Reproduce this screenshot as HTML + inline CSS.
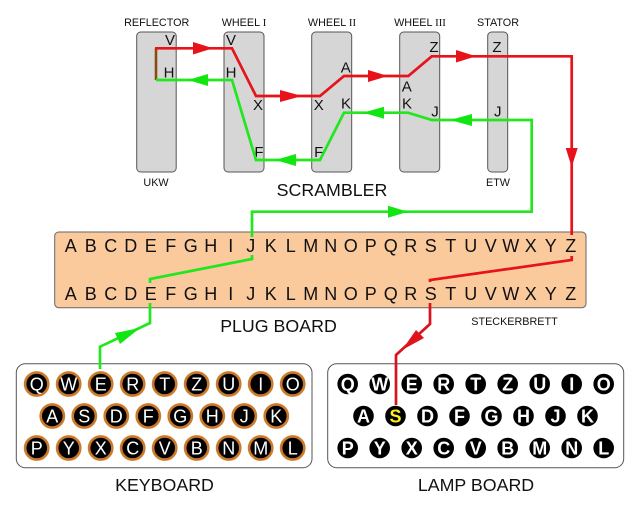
<!DOCTYPE html>
<html>
<head>
<meta charset="utf-8">
<style>
html,body{margin:0;padding:0;background:#fff;}
svg{display:block;filter:blur(0.35px);}
text{font-family:"Liberation Sans",sans-serif;fill:#111;}
.t{font-size:10.8px;text-anchor:middle;}
.b{font-size:17.8px;text-anchor:middle;}
.w{font-size:15px;text-anchor:middle;}
.p{font-size:18px;text-anchor:middle;}
.k text{fill:#fff;font-size:18px;text-anchor:middle;}
.k circle{fill:#000;stroke:#cc7a2a;stroke-width:2.6;}
.l text{fill:#fff;font-size:18px;font-weight:bold;text-anchor:middle;}
.l circle{fill:#000;}
.r{fill:#d6d6d6;stroke:#555;stroke-width:1;}
.red{fill:none;stroke:#e8121a;stroke-width:2.7;stroke-linejoin:miter;}
.grn{fill:none;stroke:#22e61e;stroke-width:2.7;stroke-linejoin:miter;}
</style>
</head>
<body>
<svg width="640" height="512" viewBox="0 0 640 512" xmlns="http://www.w3.org/2000/svg">
<rect width="640" height="512" fill="#fff"/>
<!-- Scrambler drums -->
<rect class="r" x="136.7" y="32" width="39.5" height="140" rx="4"/>
<rect class="r" x="224" y="32" width="40" height="140" rx="4"/>
<rect class="r" x="311.7" y="32" width="40" height="140" rx="4"/>
<rect class="r" x="399.7" y="32" width="40" height="140" rx="4"/>
<rect class="r" x="487.7" y="32" width="20" height="140" rx="4"/>
<!-- Top labels -->
<text class="t" x="156.7" y="26">REFLECTOR</text>
<text class="t" x="244" y="26">WHEEL <tspan font-family="Liberation Serif">I</tspan></text>
<text class="t" x="332" y="26">WHEEL <tspan font-family="Liberation Serif">II</tspan></text>
<text class="t" x="420" y="26">WHEEL <tspan font-family="Liberation Serif">III</tspan></text>
<text class="t" x="498" y="26">STATOR</text>
<text class="t" x="156" y="186">UKW</text>
<text class="t" x="498" y="186">ETW</text>
<text class="b" x="332" y="196">SCRAMBLER</text>
<!-- Drum letters -->
<g>
<text class="w" x="170" y="45">V</text><text class="w" x="169" y="77.5">H</text>
<text class="w" x="231" y="45">V</text><text class="w" x="231" y="77.5">H</text>
<text class="w" x="258" y="110">X</text><text class="w" x="259" y="157">F</text>
<text class="w" x="318.7" y="110">X</text><text class="w" x="318.7" y="157">F</text>
<text class="w" x="345.7" y="72.5">A</text><text class="w" x="346" y="108.5">K</text>
<text class="w" x="406.7" y="91.5">A</text><text class="w" x="407" y="108.5">K</text>
<text class="w" x="434" y="52">Z</text><text class="w" x="435" y="116.5">J</text>
<text class="w" x="497" y="52">Z</text><text class="w" x="497.7" y="116.5">J</text>
</g>
<!-- Plug board -->
<rect x="54.7" y="232" width="531.3" height="75.7" rx="4" fill="#fbca9c" stroke="#666" stroke-width="1"/>
<g>
<text class="p" x="70.7" y="252">A</text><text class="p" x="90.7" y="252">B</text><text class="p" x="110.7" y="252">C</text><text class="p" x="130.7" y="252">D</text><text class="p" x="150.7" y="252">E</text><text class="p" x="170.7" y="252">F</text><text class="p" x="190.7" y="252">G</text><text class="p" x="210.7" y="252">H</text><text class="p" x="230.7" y="252">I</text><text class="p" x="250.7" y="252">J</text><text class="p" x="270.7" y="252">K</text><text class="p" x="290.7" y="252">L</text><text class="p" x="310.7" y="252">M</text><text class="p" x="330.7" y="252">N</text><text class="p" x="350.7" y="252">O</text><text class="p" x="370.7" y="252">P</text><text class="p" x="390.7" y="252">Q</text><text class="p" x="410.7" y="252">R</text><text class="p" x="430.7" y="252">S</text><text class="p" x="450.7" y="252">T</text><text class="p" x="470.7" y="252">U</text><text class="p" x="490.7" y="252">V</text><text class="p" x="510.7" y="252">W</text><text class="p" x="530.7" y="252">X</text><text class="p" x="550.7" y="252">Y</text><text class="p" x="570.7" y="252">Z</text>
<text class="p" x="70.7" y="300">A</text><text class="p" x="90.7" y="300">B</text><text class="p" x="110.7" y="300">C</text><text class="p" x="130.7" y="300">D</text><text class="p" x="150.7" y="300">E</text><text class="p" x="170.7" y="300">F</text><text class="p" x="190.7" y="300">G</text><text class="p" x="210.7" y="300">H</text><text class="p" x="230.7" y="300">I</text><text class="p" x="250.7" y="300">J</text><text class="p" x="270.7" y="300">K</text><text class="p" x="290.7" y="300">L</text><text class="p" x="310.7" y="300">M</text><text class="p" x="330.7" y="300">N</text><text class="p" x="350.7" y="300">O</text><text class="p" x="370.7" y="300">P</text><text class="p" x="390.7" y="300">Q</text><text class="p" x="410.7" y="300">R</text><text class="p" x="430.7" y="300">S</text><text class="p" x="450.7" y="300">T</text><text class="p" x="470.7" y="300">U</text><text class="p" x="490.7" y="300">V</text><text class="p" x="510.7" y="300">W</text><text class="p" x="530.7" y="300">X</text><text class="p" x="550.7" y="300">Y</text><text class="p" x="570.7" y="300">Z</text>
</g>
<text class="b" x="278.5" y="332">PLUG BOARD</text>
<text class="t" x="514.5" y="325">STECKERBRETT</text>
<!-- Keyboard -->
<rect x="16.3" y="363.7" width="295.7" height="104" rx="9" fill="#fff" stroke="#555" stroke-width="1"/>
<g class="k">
<circle cx="36.7" cy="384" r="11.6"/><text x="36.7" y="390.4">Q</text>
<circle cx="68.7" cy="384" r="11.6"/><text x="68.7" y="390.4">W</text>
<circle cx="100.7" cy="384" r="11.6"/><text x="100.7" y="390.4">E</text>
<circle cx="132.7" cy="384" r="11.6"/><text x="132.7" y="390.4">R</text>
<circle cx="164.7" cy="384" r="11.6"/><text x="164.7" y="390.4">T</text>
<circle cx="196.7" cy="384" r="11.6"/><text x="196.7" y="390.4">Z</text>
<circle cx="228.7" cy="384" r="11.6"/><text x="228.7" y="390.4">U</text>
<circle cx="260.7" cy="384" r="11.6"/><text x="260.7" y="390.4">I</text>
<circle cx="292.7" cy="384" r="11.6"/><text x="292.7" y="390.4">O</text>
<circle cx="52.3" cy="416" r="11.6"/><text x="52.3" y="422.4">A</text>
<circle cx="84.3" cy="416" r="11.6"/><text x="84.3" y="422.4">S</text>
<circle cx="116.3" cy="416" r="11.6"/><text x="116.3" y="422.4">D</text>
<circle cx="148.3" cy="416" r="11.6"/><text x="148.3" y="422.4">F</text>
<circle cx="180.3" cy="416" r="11.6"/><text x="180.3" y="422.4">G</text>
<circle cx="212.3" cy="416" r="11.6"/><text x="212.3" y="422.4">H</text>
<circle cx="244.3" cy="416" r="11.6"/><text x="244.3" y="422.4">J</text>
<circle cx="276.3" cy="416" r="11.6"/><text x="276.3" y="422.4">K</text>
<circle cx="36.7" cy="448" r="11.6"/><text x="36.7" y="454.4">P</text>
<circle cx="68.7" cy="448" r="11.6"/><text x="68.7" y="454.4">Y</text>
<circle cx="100.7" cy="448" r="11.6"/><text x="100.7" y="454.4">X</text>
<circle cx="132.7" cy="448" r="11.6"/><text x="132.7" y="454.4">C</text>
<circle cx="164.7" cy="448" r="11.6"/><text x="164.7" y="454.4">V</text>
<circle cx="196.7" cy="448" r="11.6"/><text x="196.7" y="454.4">B</text>
<circle cx="228.7" cy="448" r="11.6"/><text x="228.7" y="454.4">N</text>
<circle cx="260.7" cy="448" r="11.6"/><text x="260.7" y="454.4">M</text>
<circle cx="292.7" cy="448" r="11.6"/><text x="292.7" y="454.4">L</text>
</g>
<text class="b" x="164.5" y="491">KEYBOARD</text>
<!-- Lamp board -->
<rect x="327.7" y="363.7" width="296" height="104" rx="9" fill="#fff" stroke="#555" stroke-width="1"/>
<g class="l">
<circle cx="347.7" cy="384" r="10.3"/><text x="347.7" y="390.4">Q</text>
<circle cx="379.7" cy="384" r="10.3"/><text x="379.7" y="390.4">W</text>
<circle cx="411.7" cy="384" r="10.3"/><text x="411.7" y="390.4">E</text>
<circle cx="443.7" cy="384" r="10.3"/><text x="443.7" y="390.4">R</text>
<circle cx="475.7" cy="384" r="10.3"/><text x="475.7" y="390.4">T</text>
<circle cx="507.7" cy="384" r="10.3"/><text x="507.7" y="390.4">Z</text>
<circle cx="539.7" cy="384" r="10.3"/><text x="539.7" y="390.4">U</text>
<circle cx="571.7" cy="384" r="10.3"/><text x="571.7" y="390.4">I</text>
<circle cx="603.7" cy="384" r="10.3"/><text x="603.7" y="390.4">O</text>
<circle cx="363.5" cy="416" r="10.3"/><text x="363.5" y="422.4">A</text>
<circle cx="395.5" cy="416" r="10.3"/><text x="395.5" y="422.4" style="fill:#ffee22">S</text>
<circle cx="427.5" cy="416" r="10.3"/><text x="427.5" y="422.4">D</text>
<circle cx="459.5" cy="416" r="10.3"/><text x="459.5" y="422.4">F</text>
<circle cx="491.5" cy="416" r="10.3"/><text x="491.5" y="422.4">G</text>
<circle cx="523.5" cy="416" r="10.3"/><text x="523.5" y="422.4">H</text>
<circle cx="555.5" cy="416" r="10.3"/><text x="555.5" y="422.4">J</text>
<circle cx="587.5" cy="416" r="10.3"/><text x="587.5" y="422.4">K</text>
<circle cx="347.7" cy="448" r="10.3"/><text x="347.7" y="454.4">P</text>
<circle cx="379.7" cy="448" r="10.3"/><text x="379.7" y="454.4">Y</text>
<circle cx="411.7" cy="448" r="10.3"/><text x="411.7" y="454.4">X</text>
<circle cx="443.7" cy="448" r="10.3"/><text x="443.7" y="454.4">C</text>
<circle cx="475.7" cy="448" r="10.3"/><text x="475.7" y="454.4">V</text>
<circle cx="507.7" cy="448" r="10.3"/><text x="507.7" y="454.4">B</text>
<circle cx="539.7" cy="448" r="10.3"/><text x="539.7" y="454.4">M</text>
<circle cx="571.7" cy="448" r="10.3"/><text x="571.7" y="454.4">N</text>
<circle cx="603.7" cy="448" r="10.3"/><text x="603.7" y="454.4">L</text>
</g>
<text class="b" x="476" y="491">LAMP BOARD</text>
<!-- Reflector link -->
<path d="M156 48.3V80" fill="none" stroke="#8a4a14" stroke-width="2.6"/>
<!-- Red path -->
<path class="red" d="M155 48.3H232L256 96H320L344 76H408.3L431.7 56.3H571.7V235"/>
<path class="red" d="M571.7 256V260L430 280V282"/>
<path class="red" d="M430 303V324L396 355V405" style="stroke:#d8141e"/>
<!-- Green path -->
<path class="grn" d="M156 80H232L256 160H320L344 112.7H408L432 120H531.7V211.7H252V237"/>
<path class="grn" d="M252 255V259L150 279V283"/>
<path class="grn" d="M150 303V323L100 346.7V369"/>
<!-- Arrowheads -->
<g fill="#e8121a">
<polygon points="193,42 213,48.3 193,54.5"/>
<polygon points="280,90 302,96 280,102"/>
<polygon points="368,70 388,76 368,82"/>
<polygon points="456,50 476,56.3 456,62.5"/>
<polygon points="565.7,148 577.7,148 571.7,167"/>
<polygon points="416,330 424,338 402,350" fill="#e0121c"/>
</g>
<g fill="#12e612">
<polygon points="208,74 188,80 208,86"/>
<polygon points="296,154 275,160 296,166"/>
<polygon points="384,106.7 363,112.7 384,118.7"/>
<polygon points="472,114 450,120 472,126"/>
<polygon points="388,205.7 408,211.7 388,217.7"/>
<polygon points="115,333 140,328 120,344"/>
</g>
</svg>
</body>
</html>
